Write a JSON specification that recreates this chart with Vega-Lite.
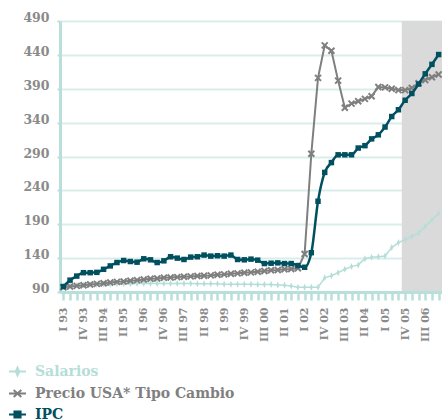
{
  "$schema": "https://vega.github.io/schema/vega-lite/v6.json",
  "width": 382,
  "height": 271,
  "autosize": "none",
  "padding": {"left": 60, "top": 21, "right": 0, "bottom": 128},
  "background": "white",
  "config": {
    "view": {"stroke": null},
    "font": "DejaVu Serif",
    "axis": {"labelOverlap": false, "labelFlush": false, "labelBound": false},
    "axisX": {"tickCount": 60},
    "axisY": {"tickCount": 20}
  },
  "data": {
    "values": [
      {"q": 0, "salarios": 99, "precio": 97, "ipc": 98},
      {"q": 1, "salarios": 99.5, "precio": 98, "ipc": 107.5},
      {"q": 2, "salarios": 100, "precio": 99, "ipc": 113.5},
      {"q": 3, "salarios": 100.5, "precio": 100, "ipc": 118.5},
      {"q": 4, "salarios": 101, "precio": 101, "ipc": 118.5},
      {"q": 5, "salarios": 101, "precio": 102, "ipc": 119},
      {"q": 6, "salarios": 101.5, "precio": 103, "ipc": 123.5},
      {"q": 7, "salarios": 101.5, "precio": 104, "ipc": 128.5},
      {"q": 8, "salarios": 102, "precio": 105, "ipc": 133.5},
      {"q": 9, "salarios": 102, "precio": 105.5, "ipc": 136.5},
      {"q": 10, "salarios": 102, "precio": 106.5, "ipc": 135},
      {"q": 11, "salarios": 102.5, "precio": 107.5, "ipc": 134},
      {"q": 12, "salarios": 102.5, "precio": 108.5, "ipc": 139},
      {"q": 13, "salarios": 102.5, "precio": 109.5, "ipc": 137.5},
      {"q": 14, "salarios": 102.5, "precio": 110, "ipc": 133.5},
      {"q": 15, "salarios": 102.5, "precio": 111, "ipc": 136},
      {"q": 16, "salarios": 102.5, "precio": 111.5, "ipc": 142},
      {"q": 17, "salarios": 102.5, "precio": 112, "ipc": 140},
      {"q": 18, "salarios": 102.5, "precio": 112.5, "ipc": 138},
      {"q": 19, "salarios": 102.5, "precio": 113, "ipc": 141.5},
      {"q": 20, "salarios": 102, "precio": 113.5, "ipc": 142},
      {"q": 21, "salarios": 102, "precio": 114, "ipc": 144.5},
      {"q": 22, "salarios": 102, "precio": 114.5, "ipc": 143},
      {"q": 23, "salarios": 102, "precio": 115.5, "ipc": 143.5},
      {"q": 24, "salarios": 101.5, "precio": 116, "ipc": 143},
      {"q": 25, "salarios": 101.5, "precio": 117, "ipc": 144.5},
      {"q": 26, "salarios": 101.5, "precio": 117.5, "ipc": 138},
      {"q": 27, "salarios": 101.5, "precio": 118.5, "ipc": 137.5},
      {"q": 28, "salarios": 101.5, "precio": 119, "ipc": 138.5},
      {"q": 29, "salarios": 101, "precio": 120, "ipc": 137},
      {"q": 30, "salarios": 101, "precio": 121, "ipc": 132},
      {"q": 31, "salarios": 101, "precio": 122, "ipc": 132.5},
      {"q": 32, "salarios": 100.5, "precio": 122.5, "ipc": 133},
      {"q": 33, "salarios": 100, "precio": 123.5, "ipc": 132},
      {"q": 34, "salarios": 99, "precio": 124, "ipc": 132},
      {"q": 35, "salarios": 97, "precio": 125, "ipc": 129},
      {"q": 36, "salarios": 97, "precio": 146, "ipc": 126.5},
      {"q": 37, "salarios": 97, "precio": 294, "ipc": 148},
      {"q": 38, "salarios": 97, "precio": 406, "ipc": 224},
      {"q": 39, "salarios": 111, "precio": 454, "ipc": 266.5},
      {"q": 40, "salarios": 114, "precio": 446, "ipc": 281},
      {"q": 41, "salarios": 118.5, "precio": 402, "ipc": 292.5},
      {"q": 42, "salarios": 123.5, "precio": 362, "ipc": 292.5},
      {"q": 43, "salarios": 127.5, "precio": 368, "ipc": 292.5},
      {"q": 44, "salarios": 130, "precio": 371.5, "ipc": 302.5},
      {"q": 45, "salarios": 139, "precio": 375, "ipc": 306},
      {"q": 46, "salarios": 141.3, "precio": 379, "ipc": 316},
      {"q": 47, "salarios": 142.2, "precio": 392.5, "ipc": 322},
      {"q": 48, "salarios": 143.2, "precio": 392, "ipc": 333.5},
      {"q": 49, "salarios": 155.5, "precio": 390, "ipc": 349},
      {"q": 50, "salarios": 163, "precio": 388, "ipc": 359},
      {"q": 51, "salarios": 167.5, "precio": 388, "ipc": 373},
      {"q": 52, "salarios": 172, "precio": 391, "ipc": 383},
      {"q": 53, "salarios": 177, "precio": 398, "ipc": 397},
      {"q": 54, "salarios": 186.6, "precio": 403, "ipc": 412},
      {"q": 55, "salarios": 196.5, "precio": 407, "ipc": 426},
      {"q": 56, "salarios": 206.4, "precio": 411, "ipc": 440.5}
    ]
  },
  "layer": [
    {
      "data": {"values": [{"desde": 50.5, "hasta": 56.5}]},
      "mark": {"type": "rect", "color": "#dadada"},
      "encoding": {
        "x": {
          "field": "desde",
          "type": "quantitative",
          "scale": {"domain": [-0.5, 56.5], "nice": false, "zero": false},
          "axis": {
            "title": null,
            "values": [0,1,2,3,4,5,6,7,8,9,10,11,12,13,14,15,16,17,18,19,20,21,22,23,24,25,26,27,28,29,30,31,32,33,34,35,36,37,38,39,40,41,42,43,44,45,46,47,48,49,50,51,52,53,54,55,56],
            "tickCount": 60,
            "labelExpr": "datum.value % 3 === 0 ? ['I','II','III','IV'][datum.value % 4] + ' ' + slice('0' + ((93 + floor(datum.value / 4)) % 100), -2) : ''",
            "labelAngle": 270,
            "labelAlign": "right",
            "labelBaseline": "middle",
            "labelFont": "DejaVu Serif",
            "labelFontWeight": "bold",
            "labelFontSize": 11,
            "labelColor": "#8a8a8a",
            "labelPadding": 7,
            "labelFlush": false,
            "labelOverlap": false,
            "labelBound": false,
            "tickSize": 8,
            "tickWidth": 2.5,
            "tickColor": "#b9dfda",
            "domainColor": "#b9dfda",
            "domainWidth": 3,
            "grid": false,
            "zindex": 1
          }
        },
        "x2": {"field": "hasta"}
      }
    },
    {
      "mark": {"type": "line", "strokeWidth": 1.5},
      "encoding": {
        "x": {"field": "q", "type": "quantitative", "scale": {"domain": [-0.5, 56.5], "nice": false, "zero": false}, "axis": {"title": null, "tickCount": 60}},
        "y": {
          "field": "salarios",
          "type": "quantitative",
          "scale": {"domain": [90, 490], "nice": false, "zero": false},
          "axis": {
            "title": null,
            "values": [90, 140, 190, 240, 290, 340, 390, 440, 490],
            "tickCount": 20,
            "grid": true,
            "gridColor": "#d9eeeb",
            "gridWidth": 2,
            "domainColor": "#b9dfda",
            "domainWidth": 3,
            "tickColor": "#b9dfda",
            "tickSize": 3,
            "tickWidth": 2,
            "labelFont": "DejaVu Serif",
            "labelFontWeight": "bold",
            "labelFontSize": 12.5,
            "labelColor": "#8a8a8a",
            "labelPadding": 8,
            "labelOffset": -3.5,
            "labelOverlap": false
          }
        },
        "color": {
          "datum": "Salarios",
          "type": "nominal",
          "scale": {"domain": ["Salarios", "Precio USA* Tipo Cambio", "IPC"], "range": ["#b5ded8", "#7f7f7f", "#00505f"]},
          "legend": {
            "title": null,
            "orient": "none",
            "legendX": -52,
            "legendY": 341,
            "direction": "vertical",
            "padding": 0,
            "symbolSize": 289,
            "symbolStrokeWidth": 2,
            "labelFont": "DejaVu Serif",
            "labelFontWeight": "bold",
            "labelFontSize": 14,
            "labelOffset": 8,
            "labelLimit": 0,
            "rowPadding": 4,
            "encode": {
              "symbols": {
                "update": {
                  "shape": {"signal": "datum.value === 'IPC' ? 'M-1,0H1M-0.36,-0.36H0.36V0.36H-0.36Z' : datum.value === 'Salarios' ? 'M-1,0H1M0,-0.45L0.2,0L0,0.45L-0.2,0Z' : 'M-1,0H1M-0.45,-0.4L0.45,0.4M-0.45,0.4L0.45,-0.4'"},
                  "stroke": {"scale": "color", "field": "value"},
                  "fill": {"scale": "color", "field": "value"},
                  "strokeWidth": {"value": 2},
                  "opacity": {"value": 1}
                }
              },
              "labels": {
                "update": {"fill": {"scale": "color", "field": "value"}}
              }
            }
          }
        }
      }
    },
    {
      "mark": {"type": "point", "shape": "M0,-1L0.45,0L0,1L-0.45,0Z", "size": 49, "filled": true, "color": "#b5ded8", "opacity": 1},
      "encoding": {
        "x": {"field": "q", "type": "quantitative", "scale": {"domain": [-0.5, 56.5], "nice": false, "zero": false}, "axis": {"title": null, "tickCount": 60}},
        "y": {"field": "salarios", "type": "quantitative", "scale": {"domain": [90, 490], "nice": false, "zero": false}, "axis": {"title": null, "tickCount": 20}}
      }
    },
    {
      "mark": {"type": "line", "strokeWidth": 2},
      "encoding": {
        "x": {"field": "q", "type": "quantitative", "scale": {"domain": [-0.5, 56.5], "nice": false, "zero": false}, "axis": {"title": null, "tickCount": 60}},
        "y": {"field": "precio", "type": "quantitative", "scale": {"domain": [90, 490], "nice": false, "zero": false}, "axis": {"title": null, "tickCount": 20}},
        "color": {"datum": "Precio USA* Tipo Cambio", "type": "nominal"}
      }
    },
    {
      "mark": {"type": "point", "shape": "M-1,-1L1,1M-1,1L1,-1", "size": 36, "filled": false, "color": "#7f7f7f", "strokeWidth": 2, "opacity": 1},
      "encoding": {
        "x": {"field": "q", "type": "quantitative", "scale": {"domain": [-0.5, 56.5], "nice": false, "zero": false}, "axis": {"title": null, "tickCount": 60}},
        "y": {"field": "precio", "type": "quantitative", "scale": {"domain": [90, 490], "nice": false, "zero": false}, "axis": {"title": null, "tickCount": 20}}
      }
    },
    {
      "mark": {"type": "line", "strokeWidth": 2.5, "interpolate": "monotone"},
      "encoding": {
        "x": {"field": "q", "type": "quantitative", "scale": {"domain": [-0.5, 56.5], "nice": false, "zero": false}, "axis": {"title": null, "tickCount": 60}},
        "y": {"field": "ipc", "type": "quantitative", "scale": {"domain": [90, 490], "nice": false, "zero": false}, "axis": {"title": null, "tickCount": 20}},
        "color": {"datum": "IPC", "type": "nominal"}
      }
    },
    {
      "mark": {"type": "point", "shape": "square", "size": 30, "filled": true, "color": "#00505f", "opacity": 1},
      "encoding": {
        "x": {"field": "q", "type": "quantitative", "scale": {"domain": [-0.5, 56.5], "nice": false, "zero": false}, "axis": {"title": null, "tickCount": 60}},
        "y": {"field": "ipc", "type": "quantitative", "scale": {"domain": [90, 490], "nice": false, "zero": false}, "axis": {"title": null, "tickCount": 20}}
      }
    }
  ]
}
